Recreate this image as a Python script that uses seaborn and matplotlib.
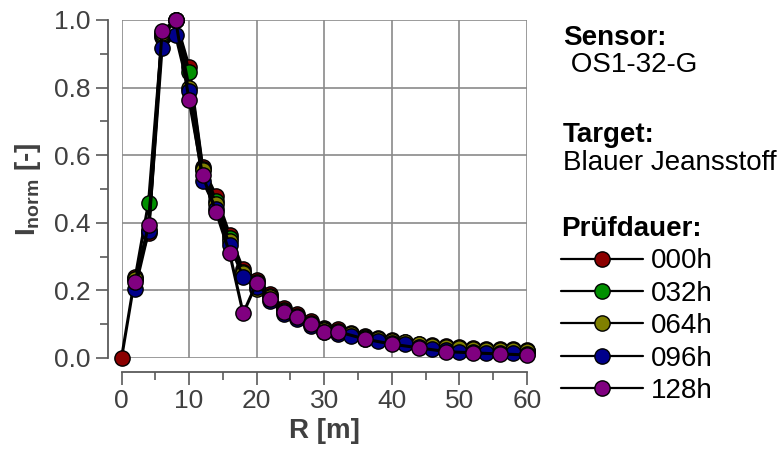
"""
Normierte Intensität über Entfernung R für verschiedene Prüfdauern
"""
import matplotlib
matplotlib.use('Agg')
import matplotlib.pyplot as plt
from matplotlib.ticker import MultipleLocator
import seaborn as sns
import pandas as pd

# Entfernungen [m]
r_full = list(range(0, 62, 2))
r_std = list(range(2, 62, 2))
r_128 = list(range(2, 34, 2)) + list(range(36, 62, 4))

# normierte Intensität je Prüfdauer
i_000 = [0.0, 0.24, 0.37, 0.95, 1.0, 0.862, 0.565, 0.48, 0.365, 0.262, 0.232,
         0.19, 0.148, 0.13, 0.11, 0.09, 0.085, 0.075, 0.065, 0.058, 0.052,
         0.048, 0.042, 0.038, 0.035, 0.032, 0.03, 0.028, 0.027, 0.026, 0.025]
i_032 = [0.235, 0.46, 0.955, 1.0, 0.847, 0.56, 0.465, 0.355, 0.255, 0.225,
         0.183, 0.143, 0.125, 0.105, 0.085, 0.08, 0.072, 0.062, 0.055, 0.048,
         0.045, 0.039, 0.034, 0.03, 0.027, 0.025, 0.023, 0.022, 0.021, 0.02]
i_064 = [0.235, 0.38, 0.96, 1.0, 0.80, 0.555, 0.455, 0.345, 0.25, 0.205,
         0.18, 0.14, 0.122, 0.102, 0.083, 0.078, 0.072, 0.06, 0.056, 0.049,
         0.046, 0.04, 0.036, 0.032, 0.029, 0.026, 0.025, 0.024, 0.023, 0.022]
i_096 = [0.205, 0.375, 0.918, 0.955, 0.79, 0.525, 0.44, 0.335, 0.24, 0.21,
         0.17, 0.13, 0.115, 0.095, 0.078, 0.072, 0.066, 0.055, 0.05, 0.043,
         0.04, 0.033, 0.028, 0.023, 0.019, 0.017, 0.016, 0.015, 0.014, 0.013]
i_128 = [0.225, 0.392, 0.967, 1.0, 0.763, 0.54, 0.432, 0.31, 0.132, 0.222,
         0.175, 0.137, 0.122, 0.1, 0.078, 0.078, 0.056, 0.041, 0.03, 0.019,
         0.015, 0.012, 0.009]

labels = ['000h', '032h', '064h', '096h', '128h']
colors = ['#8b0000', '#009000', '#808000', '#00008b', '#800080']
series = [(r_full, i_000), (r_std, i_032), (r_std, i_064), (r_std, i_096), (r_128, i_128)]

df = pd.concat([pd.DataFrame({'R': r, 'I': i, 'Prüfdauer': lab})
                for (r, i), lab in zip(series, labels)], ignore_index=True)

sns.set_theme(style='ticks')
plt.rcParams['font.family'] = ['Liberation Sans', 'DejaVu Sans']
plt.rcParams['mathtext.fontset'] = 'custom'
plt.rcParams['mathtext.rm'] = 'Liberation Sans'
plt.rcParams['mathtext.bf'] = 'Liberation Sans:bold'

fig = plt.figure(figsize=(7.82, 4.55), dpi=100)
ax = fig.add_axes([0.1554, 0.2132, 0.5185, 0.7429])

# jede Serie: schwarze Linie mit farbigen Markern
for k, (lab, col) in enumerate(zip(labels, colors)):
    sub = df[df['Prüfdauer'] == lab]
    sns.lineplot(data=sub, x='R', y='I', ax=ax, color='black', lw=2.2,
                 marker='o', markersize=11, markerfacecolor=col,
                 markeredgecolor='black', markeredgewidth=1.0,
                 errorbar=None, clip_on=False, label=lab, zorder=3 + k)

ax.set_xlim(0, 60)
ax.set_ylim(0, 1.0)
ax.xaxis.set_major_locator(MultipleLocator(10))
ax.xaxis.set_minor_locator(MultipleLocator(5))
ax.yaxis.set_major_locator(MultipleLocator(0.2))
ax.yaxis.set_minor_locator(MultipleLocator(0.1))
ax.grid(True, which='major', color='#8a8a8a', lw=1.2)
ax.set_axisbelow(True)

sns.despine(ax=ax, offset=10)
for s in ['left', 'bottom']:
    ax.spines[s].set_color('#5a5a5a')
    ax.spines[s].set_linewidth(1.3)
ax.tick_params(which='major', direction='out', length=9, width=1.2,
               color='#5a5a5a', labelsize=19, labelcolor='#404040', pad=3)
ax.tick_params(which='minor', direction='out', length=5.5, width=1.2, color='#5a5a5a')

ax.set_xlabel('R [m]', fontsize=20, fontweight='bold', color='#404040', labelpad=4)
ax.set_ylabel(r'$\mathbf{I}_{\mathbf{norm}}$ [-]', fontsize=20, fontweight='bold',
              color='#404040', labelpad=8)

# Beschriftung rechts
tx = 563 / 782
fig.text(tx, 1 - 45 / 455, 'Sensor:', fontsize=20, fontweight='bold', va='baseline', color='black')
fig.text(tx, 1 - 72 / 455, ' OS1-32-G', fontsize=20, va='baseline', color='black')
fig.text(tx, 1 - 142 / 455, 'Target:', fontsize=20, fontweight='bold', va='baseline', color='black')
fig.text(tx, 1 - 170 / 455, 'Blauer Jeansstoff', fontsize=20, va='baseline', color='black')

leg = ax.legend(title='Prüfdauer:', loc='upper left', bbox_to_anchor=(561 / 782, 1 - 216 / 455),
                bbox_transform=fig.transFigure, frameon=False, fontsize=20,
                title_fontsize=20, handlelength=2.95, handletextpad=0.3,
                labelspacing=0.23, borderpad=0, borderaxespad=0, labelcolor='black')
leg.get_title().set_fontweight('bold')
leg.get_title().set_color('black')
leg._legend_box.align = 'left'
for h in leg.get_lines():
    h.set_linewidth(1.6)

fig.savefig('out.png', dpi=100)
